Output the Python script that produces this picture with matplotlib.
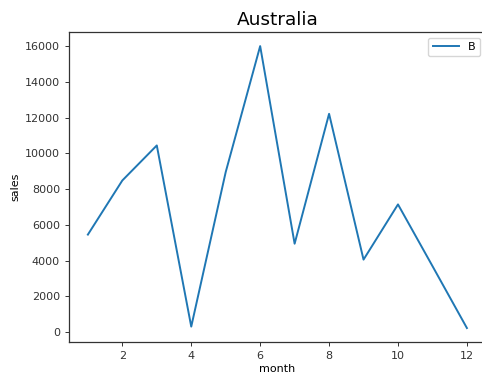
import matplotlib
matplotlib.use("Agg")
import matplotlib.pyplot as plt

months = [1, 2, 3, 4, 5, 6, 7, 8, 9, 10, 11, 12]
sales = [5450, 8480, 10440, 300, 8950, 16000, 4940, 12210, 4050, 7140, 3690, 220]

fig = plt.figure(figsize=(4.82, 3.81), dpi=100)
# axes run a little past the right edge of the figure
ax = fig.add_axes([0.143, 0.102, 0.865, 0.814])

ax.plot(months, sales, color='tab:blue', linewidth=1.4, label='B')
ax.set_xticks([2, 4, 6, 8, 10, 12])
ax.set_yticks(range(0, 16001, 2000))
ax.tick_params(labelsize=8, length=3, width=0.7, colors='#333333')
for s in ax.spines.values():
    s.set_linewidth(0.9)
    s.set_color('#333333')
ax.spines['right'].set_visible(False)

ax.set_xlabel('month', fontsize=8, labelpad=2)
ax.set_ylabel('sales', fontsize=8, labelpad=3)
ax.set_title('Australia', fontsize=13.3, pad=5)
ax.legend(loc='upper right', fontsize=8, handlelength=2.4)

fig.savefig('out.png', dpi=100)
